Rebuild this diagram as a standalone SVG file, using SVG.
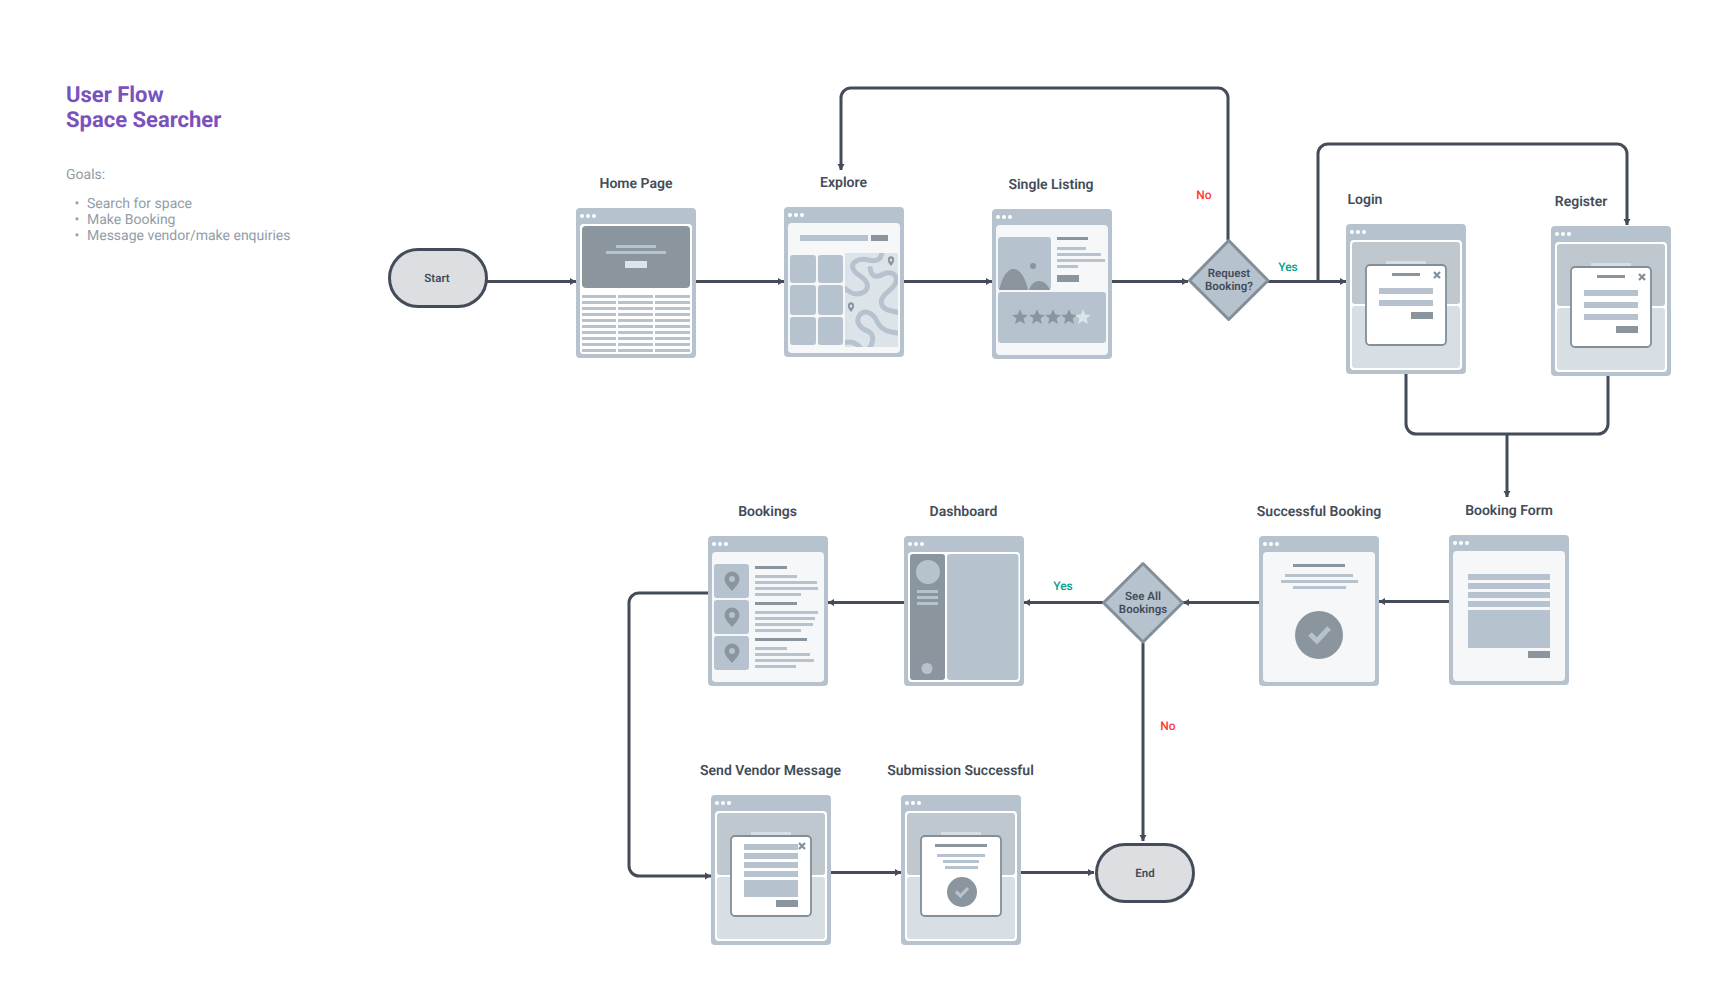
<svg xmlns="http://www.w3.org/2000/svg" width="1726" height="1006" viewBox="0 0 1726 1006">
<style>
text{font-family:Roboto,"Liberation Sans",sans-serif;text-rendering:geometricPrecision}
.lbl{font-size:14px;font-weight:600;fill:#434c58;text-anchor:middle}
.dec{font-size:11.5px;font-weight:600;fill:#434c58;text-anchor:middle}
.goal{font-size:14px;font-weight:400;fill:#919ca8}
.title{font-size:22px;font-weight:700;fill:#7a52bd}
.yes{font-size:12px;font-weight:500;fill:#00a08a;text-anchor:middle}
.no{font-size:12px;font-weight:500;fill:#ff3b30;text-anchor:middle}
.l{fill:#b6c3cf}.d{fill:#8a959e}.p{fill:#dce4ea}.w{fill:#fff}.s{fill:#f5f7f9}
.c{fill:none;stroke:#434c58;stroke-width:3;stroke-linejoin:round}
.arr{marker-end:url(#ah)}
.term{fill:#dcdee1;stroke:#434c58;stroke-width:3}
.dia{fill:#b6c3cf;stroke:#828f98;stroke-width:3;stroke-linejoin:round}
.modal{fill:#fff;stroke:#828f98;stroke-width:1.8}
.x{fill:none;stroke:#828f98;stroke-width:2.2}
.sq{fill:none;stroke:#b6c3cf;stroke-width:15;stroke-linecap:butt}
</style>
<defs>
<marker id="ah" markerUnits="userSpaceOnUse" markerWidth="8" markerHeight="8" refX="6" refY="4" orient="auto"><path d="M0 0.5L6 4L0 7.5z" fill="#434c58"/></marker>
<g id="chrome"><rect width="120" height="150" rx="4" class="l"/><circle cx="6" cy="8" r="2" class="w"/><circle cx="12" cy="8" r="2" class="w"/><circle cx="18" cy="8" r="2" class="w"/></g>
<g id="page"><use href="#chrome"/><rect x="4" y="16" width="112" height="130" rx="4" class="s"/></g>
<g id="under"><use href="#chrome"/><rect x="4" y="16" width="112" height="130" rx="4" class="w"/><rect x="6" y="18" width="108" height="62" rx="3" fill="#bfc8ce"/><rect x="6" y="82" width="108" height="62" rx="3" fill="#d7dee4"/><rect x="40" y="37" width="40" height="4" fill="#d7dee4"/><rect x="20" y="41" width="80" height="80" rx="4" class="modal"/></g>
<path id="xm" class="x" d="M-3-3L3 3M3-3L-3 3"/>
<path id="pin" d="M0-7.500a7.500 7.500 0 0 1 7.500 7.500c0 4.500-4.500 8.500-7.500 12c-3-3.500-7.500-7.500-7.500-12a7.500 7.500 0 0 1 7.500-7.500zM0-3a3 3 0 1 0 0 6a3 3 0 1 0 0-6z" class="d" fill-rule="evenodd"/>
<path id="star" d="M0-7.800L2.300-2.500L7.800-2.100L3.600 1.500L4.900 7L0 4L-4.900 7L-3.600 1.500L-7.800-2.100L-2.300-2.500z"/>
<clipPath id="mapclip"><rect x="61" y="46" width="53" height="94"/></clipPath>
</defs>
<rect width="1726" height="1006" fill="#fff"/>

<g id="heading">
<text class="title" x="66" y="102">User Flow</text>
<text class="title" x="66" y="127">Space Searcher</text>
<text class="goal" x="66" y="179">Goals:</text>
<text class="goal" x="74.500" y="208">•</text><text class="goal" x="87" y="208">Search for space</text>
<text class="goal" x="74.500" y="224">•</text><text class="goal" x="87" y="224">Make Booking</text>
<text class="goal" x="74.500" y="240">•</text><text class="goal" x="87" y="240">Message vendor/make enquiries</text>
</g>

<g id="connectors">
<path class="c arr" d="M487 281.500H576"/>
<path class="c arr" d="M696 281.500H784"/>
<path class="c arr" d="M904 281.500H992"/>
<path class="c arr" d="M1112 281.500H1188"/>
<path class="c arr" d="M1228 240V98a10 10 0 0 0-10-10H851a10 10 0 0 0-10 10V170"/>
<path class="c arr" d="M1268 281.500H1346"/>
<path class="c arr" d="M1318 281.500V154a10 10 0 0 1 10-10H1617a10 10 0 0 1 10 10V225"/>
<path class="c" d="M1406 374V424a10 10 0 0 0 10 10H1598a10 10 0 0 0 10-10V376"/>
<path class="c arr" d="M1507 434V497"/>
<path class="c arr" d="M1449 601.500H1379"/>
<path class="c arr" d="M1259 602.500H1183"/>
<path class="c arr" d="M1103 602.500H1024"/>
<path class="c arr" d="M904 602.500H828"/>
<path class="c arr" d="M708 593H639a10 10 0 0 0-10 10V866a10 10 0 0 0 10 10H711"/>
<path class="c arr" d="M831 872.500H901"/>
<path class="c arr" d="M1021 872.500H1094"/>
<path class="c arr" d="M1143 643V841"/>
</g>
<g id="connector-labels">
<text class="no" x="1204" y="199">No</text>
<text class="yes" x="1288" y="271">Yes</text>
<text class="yes" x="1063" y="590">Yes</text>
<text class="no" x="1168" y="730">No</text>
</g>

<g id="start"><rect class="term" x="389.500" y="249.500" width="97" height="57" rx="28.500"/><text class="dec" x="437" y="282">Start</text></g>
<g id="end"><rect class="term" x="1096.500" y="844.500" width="97" height="57" rx="28.500"/><text class="dec" x="1145" y="877">End</text></g>

<g id="request-booking"><path class="dia" d="M1228.700 240.500L1268 280.500L1228.700 319.500L1189.500 280.500z"/><text class="dec" x="1229" y="277">Request</text><text class="dec" x="1229" y="290">Booking?</text></g>
<g id="see-all-bookings"><path class="dia" d="M1143 563.500L1182.500 602.700L1143 642L1103.500 602.700z"/><text class="dec" x="1143" y="600">See All</text><text class="dec" x="1143" y="613">Bookings</text></g>

<g id="home-page"><text class="lbl" x="636" y="188">Home Page</text>
<g transform="translate(576 208)"><use href="#page"/>
<rect x="4" y="16" width="112" height="130" rx="4" class="w"/>
<rect x="6" y="18" width="108" height="62" rx="4" class="d"/>
<rect x="40" y="37" width="40" height="3" class="l"/><rect x="30" y="43" width="60" height="3" class="l"/><rect x="49" y="53" width="22" height="7" class="p"/>
<path class="l" d="M6 87h34v3H6zM42 87h35v3H42zM79 87h35v3H79zM6 93h34v3H6zM42 93h35v3H42zM79 93h35v3H79zM6 99h34v3H6zM42 99h35v3H42zM79 99h35v3H79zM6 105h34v3H6zM42 105h35v3H42zM79 105h35v3H79zM6 111h34v3H6zM42 111h35v3H42zM79 111h35v3H79zM6 117h34v3H6zM42 117h35v3H42zM79 117h35v3H79zM6 123h34v3H6zM42 123h35v3H42zM79 123h35v3H79zM6 129h34v3H6zM42 129h35v3H42zM79 129h35v3H79zM6 135h34v3H6zM42 135h35v3H42zM79 135h35v3H79zM6 141h34v3H6zM42 141h35v3H42zM79 141h35v3H79z"/>
</g></g>

<g id="explore"><text class="lbl" x="843.500" y="187">Explore</text>
<g transform="translate(784 207)"><use href="#page"/>
<rect x="16" y="28" width="68" height="6" class="l"/><rect x="87" y="28" width="17" height="6" class="d"/>
<rect x="6" y="48" width="26" height="28" rx="3" class="l"/><rect x="34" y="48" width="25" height="28" rx="3" class="l"/>
<rect x="6" y="78" width="26" height="30" rx="3" class="l"/><rect x="34" y="78" width="25" height="30" rx="3" class="l"/>
<rect x="6" y="110" width="26" height="28" rx="3" class="l"/><rect x="34" y="110" width="25" height="28" rx="3" class="l"/>
<rect x="61" y="46" width="53" height="94" class="p"/>
<g clip-path="url(#mapclip)"><g transform="translate(56 41) scale(.3333)">
<path class="sq" d="M125 10C125 35 110 42 85 36C60 30 35 40 38 58C42 82 78 85 82 110C86 135 50 145 30 132L8 118"/>
<path class="sq" d="M90 55C92 85 105 92 130 78C155 68 172 80 168 100C164 125 125 135 124 160C124 190 155 185 185 198"/>
<path class="sq" d="M185 255C155 255 125 250 112 222C100 195 75 182 58 202C45 222 60 240 85 250C105 262 100 285 85 305"/>
<path class="sq" d="M5 288C25 278 50 280 65 305"/>
</g></g>
<use href="#pin" transform="translate(107 53) scale(.42 .5)"/><use href="#pin" transform="translate(67 99) scale(.42 .5)"/>
</g></g>

<g id="single-listing"><text class="lbl" x="1051" y="189">Single Listing</text>
<g transform="translate(992 209)"><use href="#page"/>
<rect x="6" y="28" width="53" height="53" rx="3" class="l"/>
<path class="d" d="M7 81C12 62 18 60 22 60C28 60 34 70 36 81zM37 81C39 75 43 72 47 72C52 72 56 76 58 81z"/>
<circle cx="41" cy="57" r="3" class="d"/>
<rect x="65" y="28" width="31" height="3" class="d"/>
<rect x="65" y="38" width="29" height="3" class="l"/><rect x="65" y="44" width="44" height="3" class="l"/><rect x="65" y="50" width="48" height="3" class="l"/><rect x="65" y="56" width="21" height="3" class="l"/>
<rect x="65" y="66" width="22" height="7" class="d"/>
<rect x="6" y="83" width="108" height="51" rx="3" class="l"/>
<use href="#star" class="d" x="28" y="108"/><use href="#star" class="d" x="45" y="108"/><use href="#star" class="d" x="61" y="108"/><use href="#star" class="d" x="77" y="108"/><use href="#star" class="p" x="91" y="108"/>
</g></g>

<g id="login"><text class="lbl" x="1365" y="204">Login</text>
<g transform="translate(1346 224)"><use href="#under"/>
<rect x="46" y="49" width="28" height="3" class="d"/><use href="#xm" x="91" y="51"/>
<rect x="33" y="64" width="54" height="6" class="l"/><rect x="33" y="76" width="54" height="6" class="l"/>
<rect x="65" y="88" width="22" height="7" class="d"/>
</g></g>

<g id="register"><text class="lbl" x="1581" y="206">Register</text>
<g transform="translate(1551 226)"><use href="#under"/>
<rect x="46" y="49" width="28" height="3" class="d"/><use href="#xm" x="91" y="51"/>
<rect x="33" y="64" width="54" height="6" class="l"/><rect x="33" y="76" width="54" height="6" class="l"/><rect x="33" y="88" width="54" height="6" class="l"/>
<rect x="65" y="100" width="22" height="7" class="d"/>
</g></g>

<g id="booking-form"><text class="lbl" x="1509" y="515">Booking Form</text>
<g transform="translate(1449 535)"><use href="#page"/>
<rect x="19" y="39" width="82" height="6" class="l"/><rect x="19" y="48" width="82" height="6" class="l"/><rect x="19" y="57" width="82" height="6" class="l"/><rect x="19" y="66" width="82" height="6" class="l"/>
<rect x="19" y="75" width="82" height="38" class="l"/><rect x="79" y="116" width="22" height="7" class="d"/>
</g></g>

<g id="successful-booking"><text class="lbl" x="1319" y="516">Successful Booking</text>
<g transform="translate(1259 536)"><use href="#page"/>
<rect x="34" y="28" width="52" height="3" class="d"/>
<rect x="26" y="38" width="68" height="3" class="l"/><rect x="22" y="44" width="77" height="3" class="l"/><rect x="34" y="50" width="53" height="3" class="l"/>
<circle cx="60" cy="99" r="24" class="d"/>
<path d="M51 98L58 105L70 92" fill="none" stroke="#b6c3cf" stroke-width="5"/>
</g></g>

<g id="dashboard"><text class="lbl" x="963.500" y="516">Dashboard</text>
<g transform="translate(904 536)"><use href="#chrome"/>
<rect x="4" y="16" width="112" height="130" rx="4" class="w"/>
<rect x="6" y="18" width="35" height="126" rx="3" class="d"/><rect x="43" y="18" width="71.500" height="126" rx="3" class="l"/>
<circle cx="24" cy="36" r="12" class="l"/>
<rect x="13" y="54" width="21" height="3" class="l"/><rect x="13" y="60" width="21" height="3" class="l"/><rect x="13" y="66" width="21" height="3" class="l"/>
<circle cx="23" cy="132.500" r="5.500" class="l"/>
</g></g>

<g id="bookings"><text class="lbl" x="767.500" y="516">Bookings</text>
<g transform="translate(708 536)"><use href="#page"/>
<rect x="6" y="28" width="35" height="34" rx="3" class="l"/><rect x="6" y="64" width="35" height="34" rx="3" class="l"/><rect x="6" y="100" width="35" height="34" rx="3" class="l"/>
<use href="#pin" x="24" y="43"/><use href="#pin" x="24" y="79"/><use href="#pin" x="24" y="115"/>
<rect x="47" y="30" width="32" height="3" class="d"/><rect x="47" y="66" width="42" height="3" class="d"/><rect x="47" y="102" width="52" height="3" class="d"/>
<path class="l" d="M47 39h42v3H47zM47 45h62v3H47zM47 51h63v3H47zM47 57h46v3H47zM47 75h63v3H47zM47 81h60v3H47zM47 87h58v3H47zM47 93h46v3H47zM47 111h32v3H47zM47 117h55v3H47zM47 123h59v3H47zM47 129h41v3H47z"/>
</g></g>

<g id="send-vendor-message"><text class="lbl" x="770.500" y="775">Send Vendor Message</text>
<g transform="translate(711 795)"><use href="#under"/>
<rect x="33" y="49" width="54" height="6" class="l"/><rect x="33" y="58" width="54" height="6" class="l"/><rect x="33" y="67" width="54" height="6" class="l"/><rect x="33" y="76" width="54" height="6" class="l"/>
<rect x="33" y="85" width="54" height="17" class="l"/><rect x="65" y="105" width="22" height="7" class="d"/>
<use href="#xm" x="91" y="51"/>
</g></g>

<g id="submission-successful"><text class="lbl" x="960.500" y="775">Submission Successful</text>
<g transform="translate(901 795)"><use href="#under"/>
<rect x="34" y="49" width="52" height="3" class="d"/>
<rect x="36" y="59" width="48" height="3" class="l"/><rect x="42" y="65" width="36" height="3" class="l"/><rect x="44" y="71" width="33" height="3" class="l"/>
<circle cx="61" cy="97" r="15" class="d"/>
<path d="M55 96.500L59.500 101L67 93" fill="none" stroke="#b6c3cf" stroke-width="3.200"/>
</g></g>
</svg>
